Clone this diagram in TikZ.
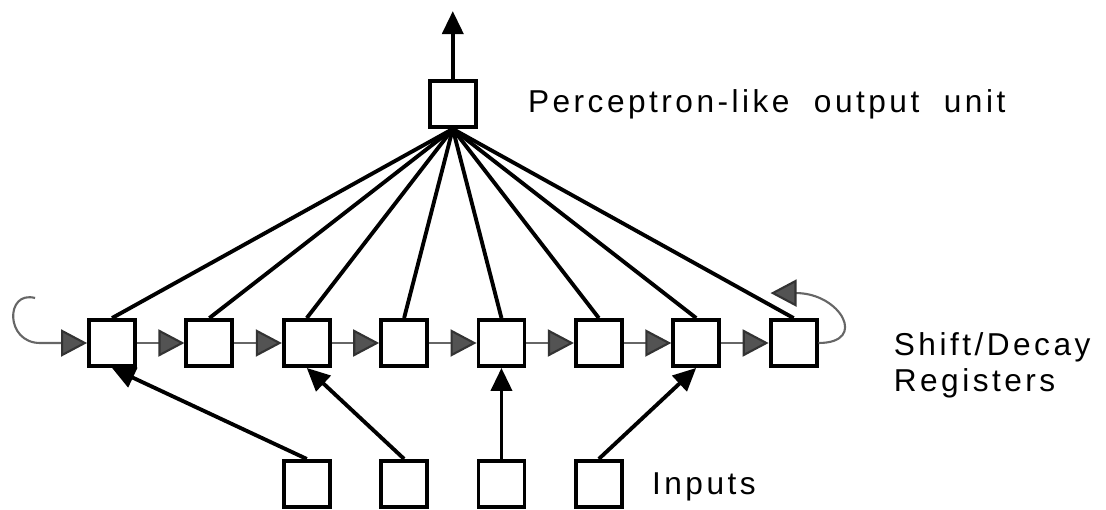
\documentclass[tikz,border=0pt]{standalone}
\usepackage{fontspec}
\setmainfont{Liberation Sans}
\newfontfamily\fontrar[LetterSpace=11]{Liberation Sans}
\usepackage{tikz}
\usetikzlibrary{positioning,arrows.meta,calc}
\tikzset{
  celula/.style    = {draw, line width=2.2pt, minimum size=9.2mm, inner sep=0pt},
  legatura/.style  = {line width=2.2pt},
  sageata/.style   = {-{Triangle[length=4.6mm, width=4.2mm]}, line width=2.2pt},
  deplasare/.style = {-{Triangle[length=5.2mm, width=5.4mm, fill=gray!65!black, color=black!80]},
                      draw=black!60, line width=1.2pt},
  eticheta/.style  = {font=\fontrar\fontsize{18}{20.4}\selectfont, inner sep=0pt, align=left}
}

\begin{document}
\begin{tikzpicture}[node distance=18.2mm and 9.5mm]
        \useasboundingbox (0,0) rectangle (221.2mm,-102mm);

        \node[celula] (r1) at (22.4mm,-68.6mm) {};
        \node[celula, right=of r1] (r2) {};
        \node[celula, right=of r2] (r3) {};
        \node[celula, right=of r3] (r4) {};
        \node[celula, right=of r4] (r5) {};
        \node[celula, right=of r5] (r6) {};
        \node[celula, right=of r6] (r7) {};
        \node[celula, right=of r7] (r8) {};

        \node[celula] (iesire) at ($(r4)!0.5!(r5)+(0,47.8mm)$) {};

        \node[celula, below=of r3] (in1) {};
        \node[celula, right=of in1] (in2) {};
        \node[celula, right=of in2] (in3) {};
        \node[celula, right=of in3] (in4) {};

        \node[eticheta, anchor=base west] (titlu) at ($(iesire.east)+(10mm,-1.8mm)$) {Perceptron-like\ \ output\ \ unit};
        \node[eticheta, right=15mm of r8, yshift=-4.5mm] (registre) {Shift/Decay\\Registers};
        \node[eticheta, right=5.6mm of in4, yshift=-0.6mm] (intrari) {Inputs};

        \coordinate (sus) at ($(iesire.north)+(0,13.6mm)$);
        \coordinate (stanga) at ($(r1.west)+(-10.4mm,9mm)$);
        \coordinate (dreapta) at ($(r8.north)+(-4.6mm,5mm)$);

        \draw[sageata] (iesire.north) -- (sus);

        \draw[legatura] (iesire.south) -- (r1.north);
        \draw[legatura] (iesire.south) -- (r2.north);
        \draw[legatura] (iesire.south) -- (r3.north);
        \draw[legatura] (iesire.south) -- (r4.north);
        \draw[legatura] (iesire.south) -- (r5.north);
        \draw[legatura] (iesire.south) -- (r6.north);
        \draw[legatura] (iesire.south) -- (r7.north);
        \draw[legatura] (iesire.south) -- (r8.north);

        \draw[deplasare] (r1.east) -- (r2.west);
        \draw[deplasare] (r2.east) -- (r3.west);
        \draw[deplasare] (r3.east) -- (r4.west);
        \draw[deplasare] (r4.east) -- (r5.west);
        \draw[deplasare] (r5.east) -- (r6.west);
        \draw[deplasare] (r6.east) -- (r7.west);
        \draw[deplasare] (r7.east) -- (r8.west);
        \draw[deplasare] (stanga) .. controls +(-6mm,1.6mm) and +(-7mm,0) .. ($(r1.west)+(-9.4mm,0)$) -- (r1.west);
        \draw[deplasare] (r8.east) .. controls +(10mm,0) and +(14mm,0) .. (dreapta);

        \draw[sageata] (in1.north) -- (r1.south);
        \draw[sageata] (in2.north) -- (r3.south);
        \draw[sageata] (in3.north) -- (r5.south);
        \draw[sageata] (in4.north) -- (r7.south);
    \end{tikzpicture}
\end{document}
